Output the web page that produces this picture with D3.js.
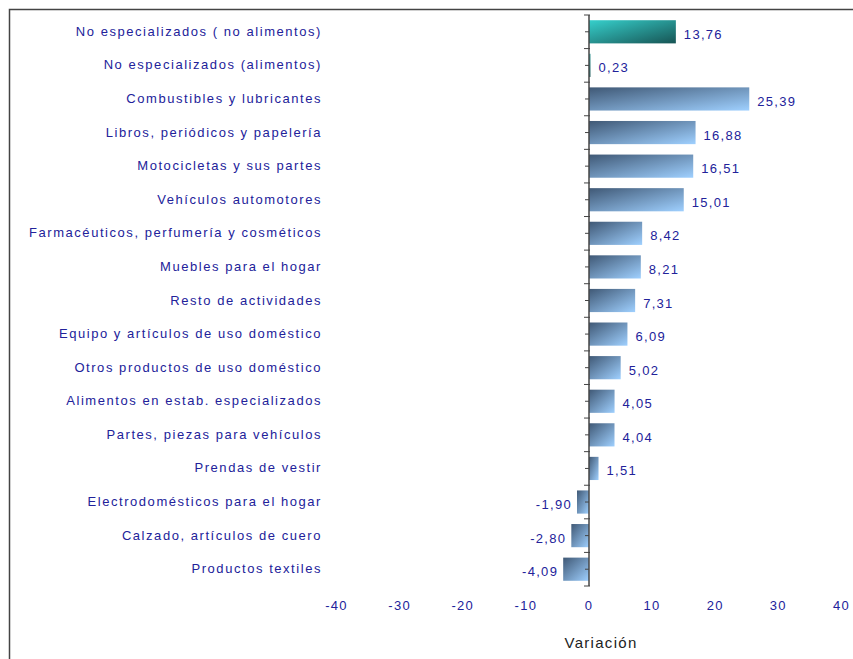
<!DOCTYPE html>
<html>
<head>
<meta charset="utf-8">
<script src="https://cdn.jsdelivr.net/npm/d3@7"></script>
<style>
  body { margin: 0; background: #fff; }
  text { font-family: "Liberation Sans", Arial, sans-serif; fill: #22229a; }
</style>
</head>
<body>
<script>
const categories = [
  "No especializados ( no alimentos)",
  "No especializados (alimentos)",
  "Combustibles y  lubricantes",
  "Libros, periódicos y papelería ",
  "Motocicletas y  sus partes",
  "Vehículos automotores",
  "Farmacéuticos, perfumería y cosméticos ",
  "Muebles para el hogar",
  "Resto de actividades",
  "Equipo y artículos de uso doméstico",
  "Otros productos de uso doméstico",
  "Alimentos en estab. especializados",
  "Partes, piezas para vehículos ",
  "Prendas de vestir ",
  "Electrodomésticos para el hogar",
  "Calzado, artículos de cuero ",
  "Productos textiles"
];
const values = [13.76, 0.23, 25.39, 16.88, 16.51, 15.01, 8.42, 8.21, 7.31, 6.09, 5.02, 4.05, 4.04, 1.51, -1.90, -2.80, -4.09];
const highlighted = [true, true, false, false, false, false, false, false, false, false, false, false, false, false, false, false, false];
const xTicks = [-40, -30, -20, -10, 0, 10, 20, 30, 40];
const xTitle = "Variación";

const width = 853, height = 659;

const svg = d3.select("body").append("svg")
    .attr("width", width)
    .attr("height", height);

// gradients
const defs = svg.append("defs");
const g1 = defs.append("linearGradient").attr("id", "gBlue")
    .attr("x1", 0).attr("y1", 0).attr("x2", 1).attr("y2", 1);
g1.append("stop").attr("offset", "0%").attr("stop-color", "#3f5875");
g1.append("stop").attr("offset", "100%").attr("stop-color", "#9fd0ff");
const g2 = defs.append("linearGradient").attr("id", "gTeal")
    .attr("x1", 0).attr("y1", 0).attr("x2", 1).attr("y2", 1);
g2.append("stop").attr("offset", "0%").attr("stop-color", "#36d0cc");
g2.append("stop").attr("offset", "100%").attr("stop-color", "#175454");

// frame
svg.append("rect")
    .attr("x", 9.5).attr("y", 9.5)
    .attr("width", width).attr("height", height)
    .attr("fill", "none").attr("stroke", "#444").attr("stroke-width", 1.5);

const x = d3.scaleLinear().domain([-40, 40]).range([336.5, 841.5]);
const y = d3.scaleBand().domain(categories).range([15, 586]).paddingInner(0.31).paddingOuter(0.155);

// bars
svg.append("g").selectAll("rect")
    .data(values)
  .join("rect")
    .attr("x", d => x(Math.min(0, d)))
    .attr("y", (d, i) => y(categories[i]))
    .attr("width", d => Math.abs(x(d) - x(0)))
    .attr("height", y.bandwidth())
    .attr("fill", (d, i) => highlighted[i] ? "url(#gTeal)" : "url(#gBlue)");

// value labels
svg.append("g").selectAll("text")
    .data(values)
  .join("text")
    .attr("x", d => d >= 0 ? x(d) + 8 : x(d) - 5)
    .attr("y", (d, i) => y(categories[i]) + y.bandwidth() / 2 + 7)
    .attr("text-anchor", d => d >= 0 ? "start" : "end")
    .attr("font-size", 13)
    .attr("letter-spacing", 1.3)
    .text(d => d.toFixed(2).replace(".", ","));

// category labels
svg.append("g").selectAll("text")
    .data(categories)
  .join("text")
    .attr("x", 322)
    .attr("y", d => y(d) + y.bandwidth() / 2 + 4)
    .attr("text-anchor", "end")
    .attr("font-size", 13)
    .attr("letter-spacing", 1.55)
    .text(d => d.trim());

// vertical axis at zero
const axisG = svg.append("g").attr("stroke", "#444");
axisG.append("line")
    .attr("x1", x(0)).attr("x2", x(0))
    .attr("y1", 15).attr("y2", 586)
    .attr("stroke-width", 1.5);
const step = y.step();
axisG.selectAll(".major")
    .data(d3.range(categories.length + 1))
  .join("line")
    .attr("x1", x(0) - 5).attr("x2", x(0) + 1)
    .attr("y1", i => 15 + i * step).attr("y2", i => 15 + i * step);
axisG.selectAll(".minor")
    .data(categories)
  .join("line")
    .attr("x1", x(0) - 4).attr("x2", x(0))
    .attr("y1", d => y(d) + y.bandwidth() / 2).attr("y2", d => y(d) + y.bandwidth() / 2);

// x tick labels
svg.append("g").selectAll("text")
    .data(xTicks)
  .join("text")
    .attr("x", d => x(d))
    .attr("y", 610)
    .attr("text-anchor", "middle")
    .attr("font-size", 13)
    .attr("letter-spacing", 1.3)
    .text(d => d);

svg.append("text")
    .attr("x", 601)
    .attr("y", 648)
    .attr("text-anchor", "middle")
    .attr("font-size", 15)
    .attr("letter-spacing", 1.3)
    .attr("style", "fill:#222")
    .text(xTitle);
</script>
</body>
</html>
